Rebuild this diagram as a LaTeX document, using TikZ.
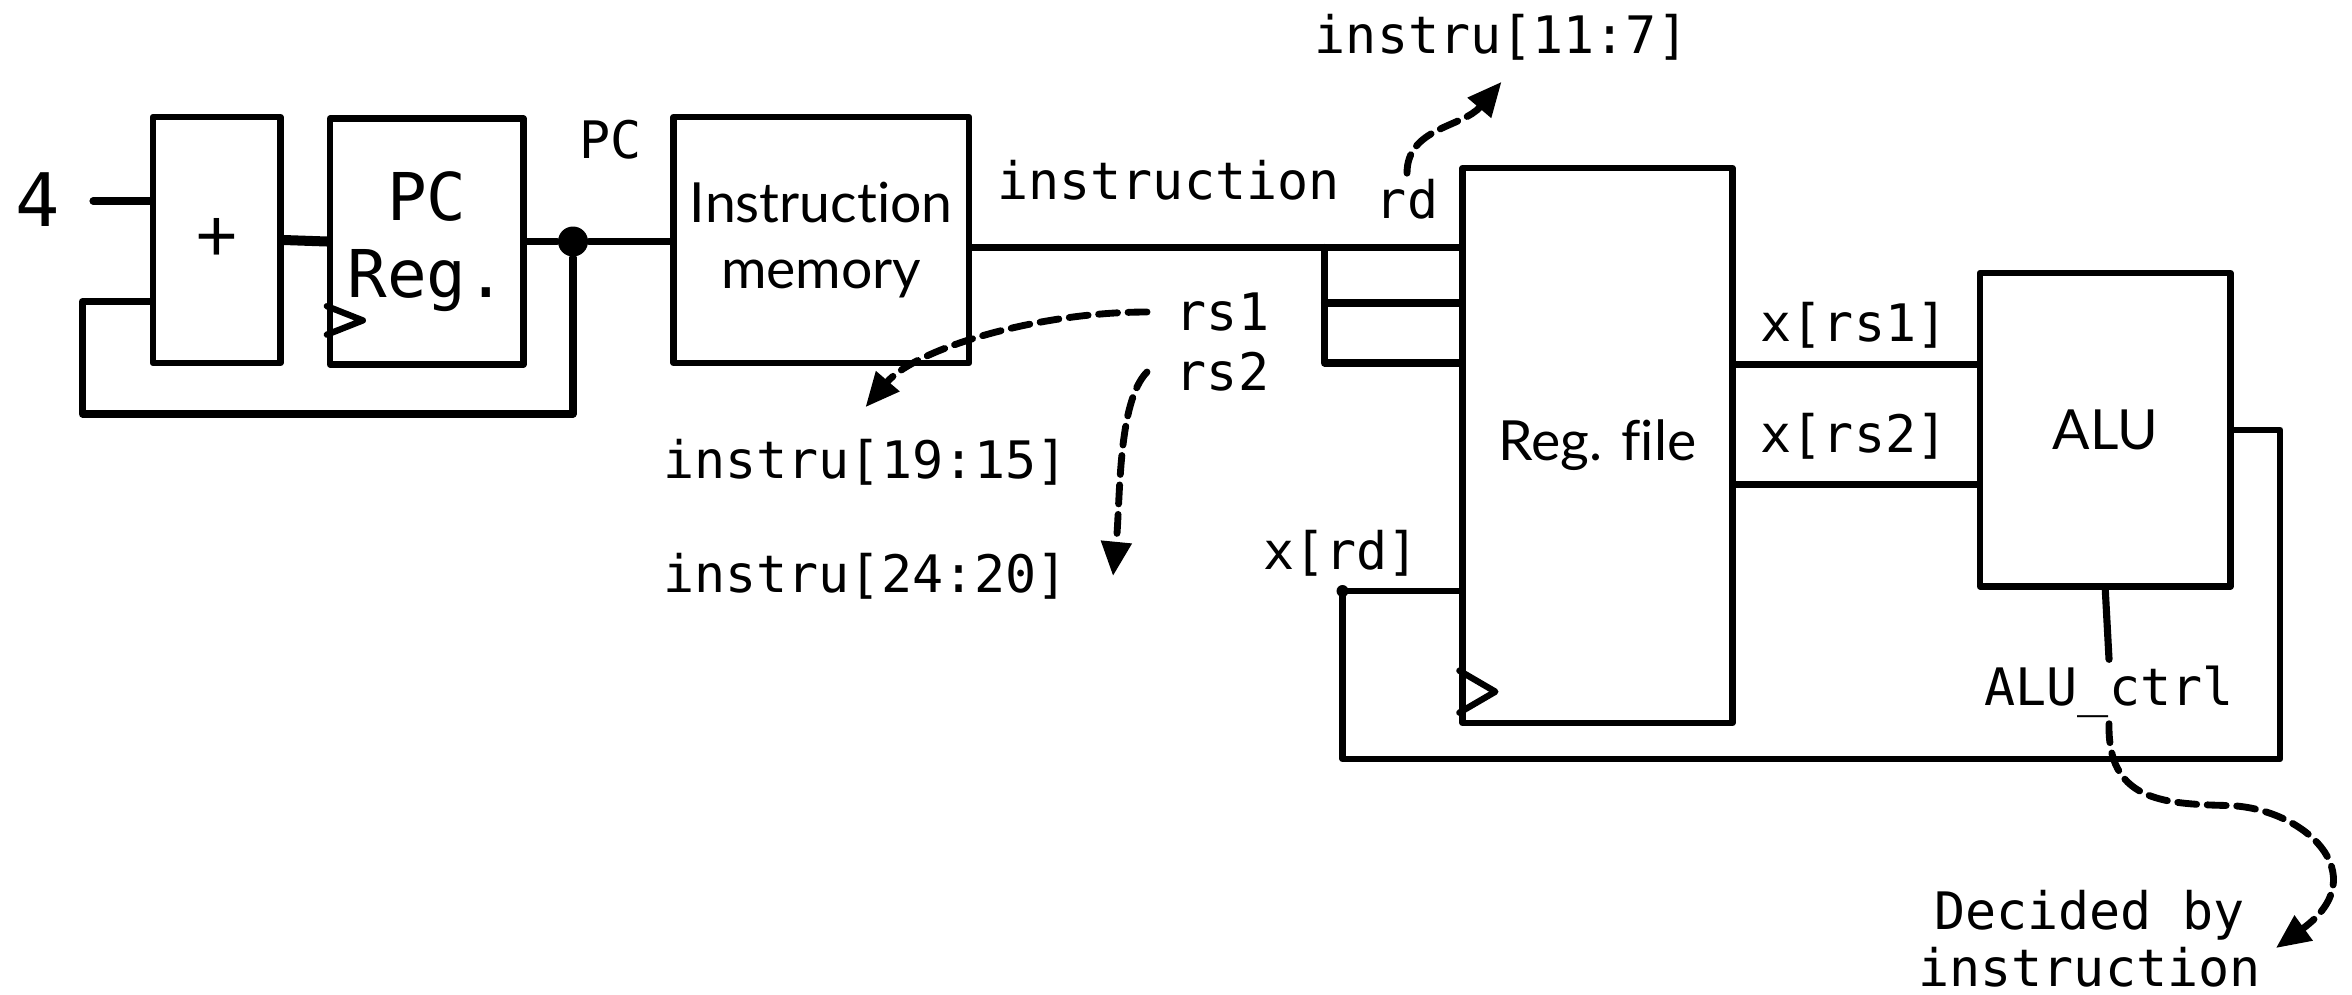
\documentclass[tikz,border=0pt]{standalone}
\usepackage{fontspec}
\setmainfont{Lato}[Ligatures=NoCommon]
\setmonofont{DejaVu Sans Mono}
\usetikzlibrary{arrows.meta,calc}
\tikzset{
  block/.style={draw, line width=1.2pt, inner sep=0pt, align=center, font=\fontsize{10.5}{12.5}\selectfont},
  wire/.style={line width=1.35pt},
  thinwire/.style={line width=1.2pt},
  lbl/.style={font=\ttfamily\fontsize{9.8}{10.8}\selectfont, inner sep=1pt, align=center},
  dasharrow/.style={line width=1.3pt, dash pattern=on 3.6pt off 2pt, -{Triangle[length=6.5pt,width=5.6pt]}},
  junction/.style={circle, fill, inner sep=0pt, minimum size=0.2cm}
}
\begin{document}
\begin{tikzpicture}[line cap=round, line join=round]
	\useasboundingbox (0,0) rectangle (15.68,6.63);

	% fetch stage: adder, PC register, instruction memory
	\node[block, minimum width=0.85cm, minimum height=1.64cm, font=\fontsize{14}{16}\selectfont] (plus) at (1.445,5.03) {+};
	\node[block, minimum width=1.29cm, minimum height=1.64cm, font=\ttfamily\fontsize{12.5}{14.5}\selectfont] (pcreg) at (2.845,5.02) {PC\\Reg.};
	\node[block, minimum width=1.97cm, minimum height=1.64cm] (imem) at (5.475,5.03) {Instruction\\memory};
	\draw[line width=1.2pt] ($(pcreg.south west)+(0,0.22)$) -- ++(0.24,0.095) -- ++(-0.24,0.095);

	\node[lbl, font=\ttfamily\fontsize{14}{16}\selectfont] (four) at (0.25,5.30) {4};
	\coordinate (fourout) at (0.62,5.29);
	\draw[wire] (fourout) -- (fourout -| plus.west);
	\draw[wire, line width=1.9pt] (plus.east) -- (pcreg.west);

	\node[junction] (pcdot) at (3.82,5.02) {};
	\draw[wire] (pcreg.east) -- (pcdot) -- (pcdot -| imem.west);
	\node[lbl] (pclbl) at (4.07,5.70) {PC};

	% PC + 4 loop
	\coordinate (loopcorner) at (0.55,3.87);
	\coordinate (plusin) at ($(plus.south west)+(0,0.43)$);
	\draw[wire] (pcdot) |- (loopcorner) |- (plusin);

	% register file and ALU
	\node[block, minimum width=1.80cm, minimum height=3.70cm] (regfile) at (10.65,3.66) {Reg. file};
	\node[block, minimum width=1.67cm, minimum height=2.09cm] (alu) at (14.035,3.765) {ALU};
	\draw[line width=1.2pt] ($(regfile.south west)+(0,0.09)$) -- ++(0.24,0.14) -- ++(-0.24,0.14);

	% instruction bus split into rd, rs1, rs2
	\coordinate (split) at (8.83,4.98);
	\coordinate (rsone) at (8.83,4.61);
	\coordinate (rstwo) at (8.83,4.21);
	\draw[wire] (imem.east |- split) -- (split -| regfile.west);
	\draw[wire] (split) -- (rstwo) -- (rstwo -| regfile.west);
	\draw[wire] (rsone) -- (rsone -| regfile.west);

	\node[lbl] (instlbl) at (7.79,5.43) {instruction};
	\node[lbl] (rd) at (9.38,5.30) {rd};
	\node[lbl] (rdfield) at (10.01,6.38) {instru[11:7]};
	\draw[dasharrow] (rd.north) .. controls (9.38,5.78) and (9.75,5.78) .. ($(rdfield.south)+(0,-0.1)$);

	\node[lbl] (rs1) at (8.15,4.55) {rs1};
	\node[lbl] (rs2) at (8.15,4.15) {rs2};
	\node[lbl] (rs1field) at (5.77,3.55) {instru[19:15]};
	\node[lbl] (rs2field) at (5.77,2.79) {instru[24:20]};
	\draw[dasharrow] ($(rs1.west)+(-0.15,0)$) .. controls (6.9,4.55) and (6.1,4.3) .. ($(rs1field.north)+(0,0.17)$);
	\draw[dasharrow] ($(rs2.west)+(-0.15,0)$) .. controls (7.45,3.95) and (7.47,3.3) .. ($(rs2field.east)+(0.26,0)$);

	% write back x[rd] from the ALU
	\node[lbl] (xrd) at (8.94,2.94) {x[rd]};
	\coordinate (rdin) at (8.95,2.69);
	\fill (rdin) circle (0.04);
	\draw[thinwire] (rdin) -- (rdin -| regfile.west);
	\coordinate (fbcorner) at (15.20,1.57);
	\draw[thinwire] (rdin) |- (fbcorner) |- (alu.east);

	% operands
	\coordinate (aluA) at ($(alu.west)+(0,0.435)$);
	\coordinate (aluB) at ($(alu.west)+(0,-0.365)$);
	\draw[thinwire] (regfile.east |- aluA) -- (aluA);
	\draw[thinwire] (regfile.east |- aluB) -- (aluB);
	\node[lbl] (xrs1) at (12.36,4.46) {x[rs1]};
	\node[lbl] (xrs2) at (12.36,3.72) {x[rs2]};

	% ALU control
	\node[lbl] (ctrl) at (14.06,2.02) {ALU\_ctrl};
	\draw[wire] (alu.south) -- (ctrl.north);
	\node[lbl] (decided) at (13.93,0.37) {Decided by\\instruction};
	\draw[dasharrow] (ctrl.south) .. controls (14.05,1.3) and (14.4,1.27) .. (14.85,1.26) .. controls (15.35,1.25) and (15.85,0.8) .. ($(decided.east)+(0.06,-0.06)$);
\end{tikzpicture}
\end{document}
